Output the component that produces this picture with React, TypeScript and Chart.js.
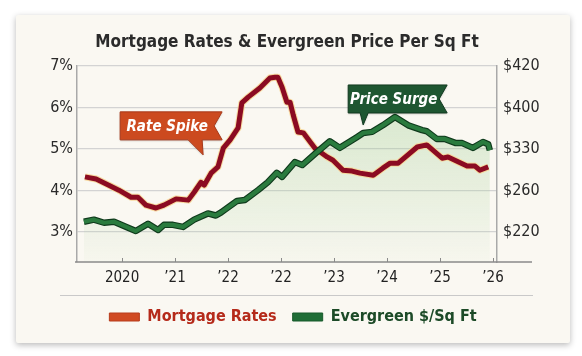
import React, { useEffect, useRef } from 'react';
import { Chart, registerables, LinearScale } from 'chart.js';

// ---------- data ----------
const xTickLabels = ['2020', '\u201921', '\u201922', '\u201922', '\u201923', '\u201924', '\u201925', '\u201926'];
const rateTickValues = [3, 4, 5, 6, 7];
const rateTickLabels = ['3%', '4%', '5%', '6%', '7%'];
const priceTickValues = [220, 260, 330, 400, 420];
const priceTickLabels = ['$220', '$260', '$330', '$400', '$420'];

// x positions are in tick-slot units (0 = 2020 tick, 7 = '26 tick)
const rateX = [-0.70, -0.49, -0.25, -0.06, 0.17, 0.30, 0.45, 0.64, 0.79, 1.02, 1.25, 1.36, 1.49, 1.55, 1.68, 1.81, 1.91, 2.04, 2.19, 2.26, 2.38, 2.60, 2.79, 2.89, 2.94, 3.02, 3.11, 3.17, 3.23, 3.32, 3.42, 3.64, 3.87, 3.98, 4.17, 4.34, 4.49, 4.74, 4.92, 5.06, 5.21, 5.57, 5.75, 6.04, 6.15, 6.28, 6.51, 6.66, 6.75, 6.91];
const rateY = [4.33, 4.28, 4.13, 4.01, 3.84, 3.84, 3.65, 3.58, 3.65, 3.80, 3.77, 3.96, 4.20, 4.13, 4.42, 4.57, 5.02, 5.22, 5.51, 6.11, 6.25, 6.47, 6.71, 6.73, 6.73, 6.49, 6.13, 6.13, 5.82, 5.41, 5.39, 5.02, 4.81, 4.73, 4.49, 4.47, 4.42, 4.37, 4.54, 4.66, 4.66, 5.05, 5.10, 4.78, 4.81, 4.73, 4.59, 4.59, 4.49, 4.57];

const priceX = [-0.72, -0.53, -0.34, -0.15, 0.08, 0.26, 0.49, 0.68, 0.79, 0.96, 1.15, 1.36, 1.62, 1.77, 1.87, 1.98, 2.17, 2.32, 2.57, 2.75, 2.92, 3.02, 3.26, 3.40, 3.68, 3.92, 4.11, 4.43, 4.55, 4.72, 4.92, 5.15, 5.40, 5.66, 5.75, 5.94, 6.09, 6.30, 6.42, 6.62, 6.81, 6.91, 6.94];
const priceY = [230, 232, 229, 230, 225, 221, 228, 222, 227, 227, 225, 232, 238, 236, 239, 243, 250, 251, 261, 274, 290, 283, 308, 303, 325, 343, 332, 350, 357, 359, 370, 384, 370, 362, 360, 347, 347, 340, 340, 332, 342, 338, 328];

const seriesNames = ['Mortgage Rates', 'Evergreen $/Sq Ft'];

// ---------- scale setup ----------
const X_MIN = -0.85;
const X_MAX = 7.075;
const RATE_MIN = 2.28;
const RATE_MAX = 7;

const pieceIndex = (v: number) => {
  const b = priceTickValues;
  const n = b.length;
  let i = 0;
  while (i < n - 2 && v > b[i + 1]) i++;
  return i + (v - b[i]) / (b[i + 1] - b[i]);
};
const pieceValue = (f: number) => {
  const b = priceTickValues;
  const n = b.length;
  const i = Math.min(Math.max(Math.floor(f), 0), n - 2);
  return b[i] + (f - i) * (b[i + 1] - b[i]);
};

class PiecewiseScale extends LinearScale {
  static id = 'piecewise';
  buildTicks() {
    return priceTickValues.map((value) => ({ value }));
  }
  getPixelForValue(value: number) {
    const lo = pieceIndex(this.min);
    const hi = pieceIndex(this.max);
    return this.getPixelForDecimal((pieceIndex(value) - lo) / (hi - lo));
  }
  getValueForPixel(pixel: number) {
    const lo = pieceIndex(this.min);
    const hi = pieceIndex(this.max);
    return pieceValue(lo + this.getDecimalForPixel(pixel) * (hi - lo));
  }
}

Chart.register(...registerables, PiecewiseScale as any);

const FONT = "'Liberation Sans Narrow', 'DejaVu Sans Condensed', 'Roboto Condensed', 'Liberation Sans', sans-serif";

const annotations = [
  { text: 'Rate Spike', x: 1.53, y: 4.86, color: '#cc4a1f', edge: '#a8391a', box: [-83, -43, 19, -15], tail: [-15, -1] },
  { text: 'Price Surge', x: 4.55, y: 5.58, color: '#1e5631', edge: '#123a20', box: [-15, -40, 84, -12], tail: [-3, 5] },
];

function drawBanner(ctx: CanvasRenderingContext2D, tx: number, ty: number, a: any) {
  const [bx0, by0, bx1, by1] = a.box;
  const x0 = tx + bx0, y0 = ty + by0, x1 = tx + bx1, y1 = ty + by1;
  const notch = 8;
  ctx.save();
  ctx.beginPath();
  ctx.moveTo(x0, y0);
  ctx.lineTo(x1, y0);
  ctx.lineTo(x1 - notch, (y0 + y1) / 2);
  ctx.lineTo(x1, y1);
  ctx.lineTo(tx + a.tail[1], y1);
  ctx.lineTo(tx, ty);
  ctx.lineTo(tx + a.tail[0], y1);
  ctx.lineTo(x0, y1);
  ctx.closePath();
  ctx.fillStyle = a.color;
  ctx.shadowColor = 'rgba(0,0,0,0.25)';
  ctx.shadowBlur = 2;
  ctx.shadowOffsetY = 1;
  ctx.fill();
  ctx.shadowColor = 'transparent';
  ctx.strokeStyle = a.edge;
  ctx.lineWidth = 1;
  ctx.stroke();
  ctx.fillStyle = '#ffffff';
  ctx.font = `italic bold 15px ${FONT}`;
  ctx.textAlign = 'center';
  ctx.textBaseline = 'middle';
  ctx.fillText(a.text, (x0 + x1 - notch) / 2, (y0 + y1) / 2 + 1);
  ctx.restore();
}

const decorPlugin = {
  id: 'decor',
  afterDatasetsDraw(chart: any) {
    const ctx = chart.ctx;
    const xs = chart.scales.x;
    const ys = chart.scales.y;
    annotations.forEach((a) => drawBanner(ctx, xs.getPixelForValue(a.x), ys.getPixelForValue(a.y), a));
  },
  afterDraw(chart: any) {
    const ctx = chart.ctx;
    const { left, right, bottom } = chart.chartArea;
    const xs = chart.scales.x;
    ctx.save();
    ctx.strokeStyle = '#8a8a8a';
    ctx.lineWidth = 1.5;
    ctx.beginPath();
    ctx.moveTo(left - 2, bottom);
    ctx.lineTo(right + 35, bottom);
    ctx.stroke();
    ctx.lineWidth = 1;
    xs.ticks.forEach((t: any) => {
      const px = Math.round(xs.getPixelForValue(t.value)) + 0.5;
      ctx.beginPath();
      ctx.moveTo(px, bottom - 4);
      ctx.lineTo(px, bottom);
      ctx.stroke();
    });
    ctx.strokeStyle = '#c9c9c9';
    ctx.lineWidth = 1.2;
    ctx.beginPath();
    ctx.moveTo(44, 280.5);
    ctx.lineTo(517, 280.5);
    ctx.stroke();
    ctx.restore();
  },
};

export default function App() {
  const ref = useRef<HTMLCanvasElement | null>(null);

  useEffect(() => {
    if (!ref.current) return;
    const rateData = rateX.map((x, i) => ({ x, y: rateY[i] }));
    const priceData = priceX.map((x, i) => ({ x, y: priceY[i] }));
    const priceMin = pieceValue(RATE_MIN - rateTickValues[0]);

    const fillGradient = (c: any) => {
      const { chart } = c;
      const area = chart.chartArea;
      if (!area) return 'rgba(140,195,130,0.15)';
      const g = chart.ctx.createLinearGradient(0, area.top + 40, 0, area.bottom);
      g.addColorStop(0, 'rgba(150,200,135,0.34)');
      g.addColorStop(0.6, 'rgba(160,205,145,0.18)');
      g.addColorStop(1, 'rgba(170,210,155,0.04)');
      return g;
    };

    const chart = new Chart(ref.current, {
      type: 'line',
      data: {
        datasets: [
          { label: 'price-line', data: priceData, yAxisID: 'y1', borderColor: '#2a7b3e', borderWidth: 4.2, fill: false, pointRadius: 0, order: 0, borderJoinStyle: 'round' },
          { label: 'price-outline', data: priceData, yAxisID: 'y1', borderColor: '#0f3a1c', borderWidth: 6.5, fill: 'start', backgroundColor: fillGradient, pointRadius: 0, order: 1, borderJoinStyle: 'round' },
          { label: 'rate-line', data: rateData, yAxisID: 'y', borderColor: '#8b0b22', borderWidth: 5, fill: false, pointRadius: 0, order: 2, borderJoinStyle: 'round' },
          { label: 'rate-halo', data: rateData, yAxisID: 'y', borderColor: 'rgba(246,214,150,0.9)', borderWidth: 7, fill: false, pointRadius: 0, order: 3, borderJoinStyle: 'round' },
        ],
      } as any,
      options: {
        animation: false,
        responsive: false,
        events: [],
        layout: { padding: { top: 0, left: 0, right: 0, bottom: 8 } },
        font: { family: FONT },
        scales: {
          x: {
            type: 'linear',
            min: X_MIN,
            max: X_MAX,
            afterBuildTicks: (s: any) => { s.ticks = xTickLabels.map((_, i) => ({ value: i })); },
            afterFit: (s: any) => { s.height = 31; },
            grid: { display: false, drawTicks: false },
            border: { display: false },
            ticks: {
              autoSkip: false,
              maxRotation: 0,
              padding: 7,
              color: '#222',
              font: { family: FONT, size: 15 },
              callback: (_v: any, i: number) => xTickLabels[i],
            },
          },
          y: {
            type: 'linear',
            position: 'left',
            min: RATE_MIN,
            max: RATE_MAX,
            afterBuildTicks: (s: any) => { s.ticks = rateTickValues.map((value) => ({ value })); },
            afterFit: (s: any) => { s.width = 61; },
            grid: { color: '#d3d3d3', lineWidth: 1.3, drawTicks: false },
            border: { display: true, color: '#a9a9a9', width: 1.5 },
            ticks: {
              padding: 4,
              color: '#2a2a2a',
              font: { family: FONT, size: 16 },
              callback: (_v: any, i: number) => rateTickLabels[i],
            },
          },
          y1: {
            type: 'piecewise',
            position: 'right',
            min: priceMin,
            max: priceTickValues[priceTickValues.length - 1],
            afterFit: (s: any) => { s.width = 73; },
            grid: { drawOnChartArea: false, drawTicks: false },
            border: { display: true, color: '#a9a9a9', width: 1.5 },
            ticks: {
              padding: 6,
              color: '#2a2a2a',
              font: { family: FONT, size: 16 },
              callback: (_v: any, i: number) => priceTickLabels[i],
            },
          } as any,
        },
        plugins: {
          filler: { drawTime: 'beforeDatasetsDraw' },
          tooltip: { enabled: false },
          title: {
            display: true,
            fullSize: false,
            text: 'Mortgage Rates & Evergreen Price Per Sq Ft',
            color: '#2b2b2b',
            font: { family: FONT, size: 17, weight: 'bold', lineHeight: 1.2 },
            padding: { top: 17.8, bottom: 12.8 },
          },
          legend: {
            display: true,
            position: 'bottom',
            onClick: () => {},
            labels: {
              boxWidth: 30,
              boxHeight: 8,
              padding: 16,
              useBorderRadius: true,
              borderRadius: 3,
              font: { family: FONT, size: 16, weight: 'bold' },
              generateLabels: () => [
                { text: seriesNames[0], fillStyle: '#d04a22', strokeStyle: '#b83c1c', lineWidth: 1, fontColor: '#b52a1a', hidden: false, datasetIndex: 2 },
                { text: seriesNames[1], fillStyle: '#1f6d36', strokeStyle: '#175a2b', lineWidth: 1, fontColor: '#1c4a27', hidden: false, datasetIndex: 0 },
              ],
            },
          },
        },
      } as any,
      plugins: [decorPlugin],
    });
    return () => chart.destroy();
  }, []);

  return (
    <div style={{ position: 'fixed', left: 0, top: 0, width: 582, height: 356, background: '#ffffff' }}>
      <div
        style={{
          position: 'absolute',
          left: 16,
          top: 15,
          width: 554,
          height: 328,
          background: '#faf8f2',
          boxShadow: '0 2px 6px rgba(0,0,0,0.28)',
          borderRadius: 2,
        }}
      >
        <canvas ref={ref} width={554} height={328} style={{ display: 'block' }} />
      </div>
    </div>
  );
}
